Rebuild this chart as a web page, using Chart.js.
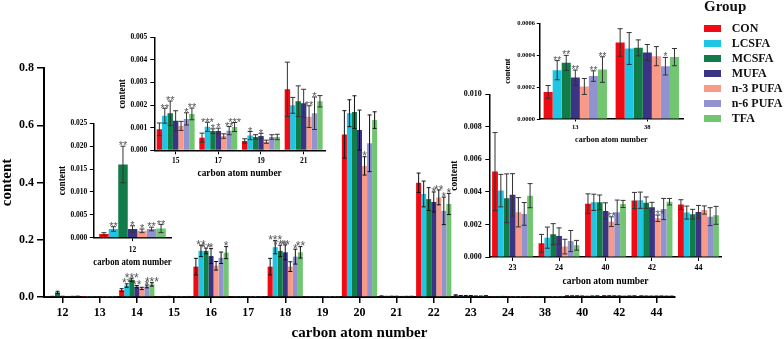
<!DOCTYPE html>
<html><head><meta charset="utf-8">
<script src="https://cdn.jsdelivr.net/npm/chart.js@4.4.0/dist/chart.umd.min.js"></script>
<style>
html,body{margin:0;padding:0;background:#fff;}
#wrap{position:relative;width:784px;height:339px;overflow:hidden;background:#fff;}
canvas{position:absolute;}
.lg{position:absolute;font-family:"Liberation Serif",serif;font-weight:bold;color:#111;white-space:nowrap;}
.box{position:absolute;}
</style></head>
<body>
<div id="wrap">
<canvas id="cMain"></canvas>
<canvas id="cA"></canvas>
<canvas id="cB"></canvas>
<canvas id="cC"></canvas>
<canvas id="cD"></canvas>
<div id="legend"></div>
</div>
<script>
// ---------- data ----------
const categories = ['12','13','14','15','16','17','18','19','20','21','22','23','24','38','40','42','44'];
const groups = ['CON','LCSFA','MCSFA','MUFA','n-3 PUFA','n-6 PUFA','TFA'];
const colors = ['#f00a14','#1fc6e3','#117c48','#3b3484','#f99a88','#9093d0','#72c672'];

const conValues   = [0.0008,0.00017,0.024,0.00093,0.106,0.00056,0.106,0.00041,0.568,0.0027,0.399,0.00525,0.00084,0.00048,0.00328,0.00347,0.00322];
const lcsfaValues = [0.0019,0.000306,0.040,0.00153,0.161,0.00104,0.174,0.00065,0.642,0.00199,0.360,0.00408,0.00119,0.000442,0.00336,0.00349,0.00273];
const mcsfaValues = [0.016,0.000352,0.060,0.00164,0.161,0.00085,0.161,0.00059,0.646,0.00217,0.342,0.00361,0.0014,0.000446,0.00336,0.00334,0.00263];
const mufaValues  = [0.0019,0.00026,0.036,0.00131,0.143,0.00085,0.156,0.00063,0.583,0.00208,0.332,0.00382,0.00129,0.000417,0.00283,0.00306,0.00277];
const n3Values    = [0.0015,0.000204,0.030,0.00108,0.109,0.00063,0.106,0.00038,0.458,0.00149,0.348,0.00275,0.00064,0.000394,0.00217,0.00238,0.00289];
const n6Values    = [0.0019,0.000269,0.037,0.00139,0.137,0.00087,0.141,0.00059,0.537,0.00164,0.301,0.00265,0.00098,0.000331,0.00275,0.00295,0.00248];
const tfaValues   = [0.002,0.00031,0.044,0.00161,0.155,0.00103,0.156,0.00059,0.618,0.00217,0.325,0.00377,0.00072,0.000388,0.00326,0.0034,0.00256];

const conErr   = [0.0003,0.00004,0.005,0.00028,0.029,0.0002,0.029,0.0001,0.083,0.0012,0.034,0.0024,0.00055,0.000086,0.0006,0.0005,0.0003];
const lcsfaErr = [0.0005,0.00006,0.006,0.00033,0.02,0.0002,0.023,0.00018,0.047,0.00035,0.045,0.001,0.00065,0.0001,0.0005,0.0005,0.0004];
const mcsfaErr = [0.004,0.000047,0.006,0.00054,0.01,0.0001,0.02,0.0001,0.057,0.00068,0.04,0.0015,0.00065,0.00005,0.00045,0.00035,0.0003];
const mufaErr  = [0.0007,0.000047,0.004,0.00044,0.026,0.00013,0.026,0.00012,0.07,0.00062,0.035,0.0013,0.0005,0.00005,0.0005,0.0003,0.0004];
const n3Err    = [0.0004,0.00005,0.004,0.0002,0.015,0.0001,0.017,0.00007,0.032,0.00048,0.026,0.0009,0.00045,0.00006,0.0003,0.0002,0.00025];
const n6Err    = [0.0004,0.000033,0.005,0.00027,0.02,0.00018,0.026,0.0001,0.099,0.00072,0.048,0.0007,0.00065,0.000055,0.00075,0.00065,0.00055];
const tfaErr   = [0.0009,0.00008,0.006,0.00026,0.021,0.0002,0.02,0.00012,0.029,0.00025,0.037,0.00074,0.0003,0.000054,0.00022,0.0002,0.00055];

//                 12    13    14    15    16    17    18    19   20   21    22   23  24  38   40    42    44
const conStars   = ['',  '',   '',   '',   '',   '',   '',   '',  '',  '',   '',  '', '', '',  '',   '',   ''];
const lcsfaStars = ['**','**', '**', '**', '**', '***','***','*', '',  '',   '',  '', '', '',  '',   '',   ''];
const mcsfaStars = ['**','**', '***','**', '**', '*',  '***','',  '',  '',   '',  '', '', '',  '',   '',   ''];
const mufaStars  = ['*', '**', '**', '',   '*',  '*',  '**', '*', '',  '',   '*', '', '', '',  '',   '',   ''];
const n3Stars    = ['*', '',   '',   '',   '',   '',   '',   '',  '*', '**', '**','', '', '',  '**', '***',''];
const n6Stars    = ['**','**', '*',  '*',  '',   '**', '*',  '',  '',  '*',  '*', '', '', '*', '',   '',   ''];
const tfaStars   = ['**','**', '***','**', '*',  '***','**', '',  '',  '',   '*', '', '', '',  '',   '',   ''];

const insetA = ['12'];
const insetB = ['15','17','19','21'];
const insetC = ['23','24','40','42','44'];
const insetD = ['13','38'];

const seriesValues = [conValues,lcsfaValues,mcsfaValues,mufaValues,n3Values,n6Values,tfaValues];
const seriesErrors = [conErr,lcsfaErr,mcsfaErr,mufaErr,n3Err,n6Err,tfaErr];
const seriesStars  = [conStars,lcsfaStars,mcsfaStars,mufaStars,n3Stars,n6Stars,tfaStars];
const insetCats = [].concat(insetA, insetB, insetC, insetD);

const F = '"Liberation Serif", "Times New Roman", serif';
const SF = '"Liberation Sans", Arial, sans-serif';

// ---------- error bars + significance marks ----------
const errStar = {
  id: 'errStar',
  afterDatasetsDraw(chart) {
    const o = chart.options.plugins.errStar;
    const {ctx} = chart;
    const ys = chart.scales.y;
    ctx.save();
    chart.data.datasets.forEach((ds, di) => {
      const meta = chart.getDatasetMeta(di);
      meta.data.forEach((bar, j) => {
        const v = ds.data[j], e = ds.errs[j];
        const x = bar.x;
        const yt = ys.getPixelForValue(v + e);
        const yb = ys.getPixelForValue(Math.max(v - e, 0));
        ctx.strokeStyle = o.color; ctx.lineWidth = 1;
        ctx.beginPath();
        ctx.moveTo(x, yt); ctx.lineTo(x, yb);
        ctx.moveTo(x - o.cap, yt); ctx.lineTo(x + o.cap, yt);
        ctx.moveTo(x - o.cap, yb); ctx.lineTo(x + o.cap, yb);
        ctx.stroke();
        const s = ds.stars[j];
        if (s) {
          ctx.fillStyle = o.starColor;
          ctx.font = o.starSize + 'px ' + SF;
          ctx.textAlign = 'center';
          ctx.textBaseline = 'alphabetic';
          ctx.fillText(s, x, yt + o.starSize * 0.3);
        }
      });
    });
    ctx.restore();
  }
};

function makeChart(id, P) {
  const cv = document.getElementById(id);
  cv.width = P.w; cv.height = P.h;
  cv.style.left = P.left + 'px'; cv.style.top = P.top + 'px';
  cv.style.width = P.w + 'px'; cv.style.height = P.h + 'px';
  const idx = P.cats.map(c => categories.indexOf(c));
  const datasets = groups.map((g, gi) => ({
    label: g,
    data: idx.map(i => seriesValues[gi][i]),
    errs: idx.map(i => seriesErrors[gi][i]),
    stars: idx.map(i => P.starsOn(categories[i]) ? seriesStars[gi][i] : ''),
    backgroundColor: colors[gi],
    borderWidth: 0,
    categoryPercentage: P.catPct,
    barPercentage: 1
  }));
  return new Chart(cv, {
    type: 'bar',
    data: {labels: P.cats, datasets},
    options: {
      responsive: false, animation: false, devicePixelRatio: 1,
      layout: {padding: {top: P.padTop, right: P.padRight, left: 0, bottom: 0}},
      plugins: {
        legend: {display: false}, tooltip: {enabled: false},
        errStar: {color: P.errColor, cap: P.cap, starSize: P.starSize, starColor: '#555'}
      },
      scales: {
        x: {
          grid: {offset: false, display: true, drawOnChartArea: false, drawTicks: true, tickLength: P.xTick, color: '#000', lineWidth: P.tickW},
          border: {display: true, color: '#000', width: P.axisW},
          ticks: {font: {family: F, size: P.tickSize, weight: 'bold'}, color: '#000', padding: P.xPad, maxRotation: 0, autoSkip: false},
          title: {display: true, text: 'carbon atom number', color: '#000',
                  font: {family: F, size: P.titleSize, weight: 'bold', lineHeight: P.titleLH},
                  padding: {top: 0, bottom: P.xTitlePad}},
          afterFit: s => { s.height = P.xH; }
        },
        y: {
          min: 0, max: P.yMax,
          grid: {display: true, drawOnChartArea: false, drawTicks: true, tickLength: P.yTick, color: '#000', lineWidth: P.tickW},
          border: {display: true, color: '#000', width: P.axisW},
          ticks: {stepSize: P.step, callback: v => v.toFixed(P.dec), font: {family: F, size: P.tickSize, weight: 'bold'}, color: '#000', padding: P.yPad},
          title: {display: true, text: 'content', color: '#000',
                  font: {family: F, size: P.titleSize, weight: 'bold', lineHeight: P.titleLH},
                  padding: {top: P.yTitlePad, bottom: 0}},
          afterFit: s => { s.width = P.yW; }
        }
      }
    },
    plugins: [errStar]
  });
}

makeChart('cMain', {
  cats: categories, starsOn: c => insetCats.indexOf(c) < 0,
  left: 0, top: 0, w: 784, h: 339, yW: 44, xH: 42, padTop: 68, padRight: 109,
  yMax: 0.8, step: 0.2, dec: 1, tickSize: 12, titleSize: 15, titleLH: 0.8,
  xTick: 6, yTick: 7, xPad: 3, yPad: 3, tickW: 1.5, axisW: 2,
  xTitlePad: 0, yTitlePad: 1.5, catPct: 0.95, cap: 2, errColor: '#111', starSize: 12
});
makeChart('cA', {
  cats: insetA, starsOn: () => true,
  left: 50, top: 110, w: 130, h: 165, yW: 43.3, xH: 37.3, padTop: 13.3, padRight: 8.3,
  yMax: 0.025, step: 0.005, dec: 3, tickSize: 7.5, titleSize: 9.3, titleLH: 1,
  xTick: 3.5, yTick: 3.5, xPad: 4.3, yPad: 2.5, tickW: 1, axisW: 1.5,
  xTitlePad: 7.6, yTitlePad: 7.6, catPct: 0.85, cap: 2.5, errColor: '#333', starSize: 11
});
makeChart('cB', {
  cats: insetB, starsOn: () => true,
  left: 110, top: 20, w: 230, h: 165, yW: 44.3, xH: 34.7, padTop: 17.3, padRight: 15,
  yMax: 0.005, step: 0.001, dec: 3, tickSize: 7.5, titleSize: 9.3, titleLH: 1,
  xTick: 4, yTick: 4, xPad: 2.2, yPad: 3, tickW: 1, axisW: 1.5,
  xTitlePad: 6.3, yTitlePad: 8, catPct: 0.89, cap: 2.5, errColor: '#333', starSize: 11
});
makeChart('cC', {
  cats: insetC, starsOn: () => true,
  left: 445, top: 80, w: 285, h: 210, yW: 44.3, xH: 33, padTop: 14.3, padRight: 8.3,
  yMax: 0.010, step: 0.002, dec: 3, tickSize: 8, titleSize: 9.5, titleLH: 1,
  xTick: 4, yTick: 4, xPad: 2.5, yPad: 3.5, tickW: 1, axisW: 1.5,
  xTitlePad: 3.5, yTitlePad: 5.2, catPct: 0.88, cap: 2.5, errColor: '#333', starSize: 11
});
makeChart('cD', {
  cats: insetD, starsOn: () => true,
  left: 495, top: 10, w: 195, h: 140, yW: 44.3, xH: 31, padTop: 13.3, padRight: 6.7,
  yMax: 0.0006, step: 0.0002, dec: 4, tickSize: 6.5, titleSize: 8, titleLH: 1,
  xTick: 2.5, yTick: 2.5, xPad: 2.3, yPad: 1.8, tickW: 1, axisW: 1.5,
  xTitlePad: 6, yTitlePad: 9.3, catPct: 0.88, cap: 2.5, errColor: '#333', starSize: 10
});

// ---------- legend ----------
const lg = document.getElementById('legend');
let html = '<div class="lg" style="left:704px;top:-1px;font-size:15px;line-height:15px;">Group</div>';
groups.forEach((g, i) => {
  const yc = 28.3 + 15 * i;
  html += '<div class="box" style="left:704px;top:' + (yc - 3.6) + 'px;width:17px;height:7.3px;background:' + colors[i] + '"></div>';
  html += '<div class="lg" style="left:731.7px;top:' + (yc - 6.5) + 'px;font-size:12px;line-height:12px;">' + g + '</div>';
});
lg.innerHTML = html;
</script>
</body></html>
